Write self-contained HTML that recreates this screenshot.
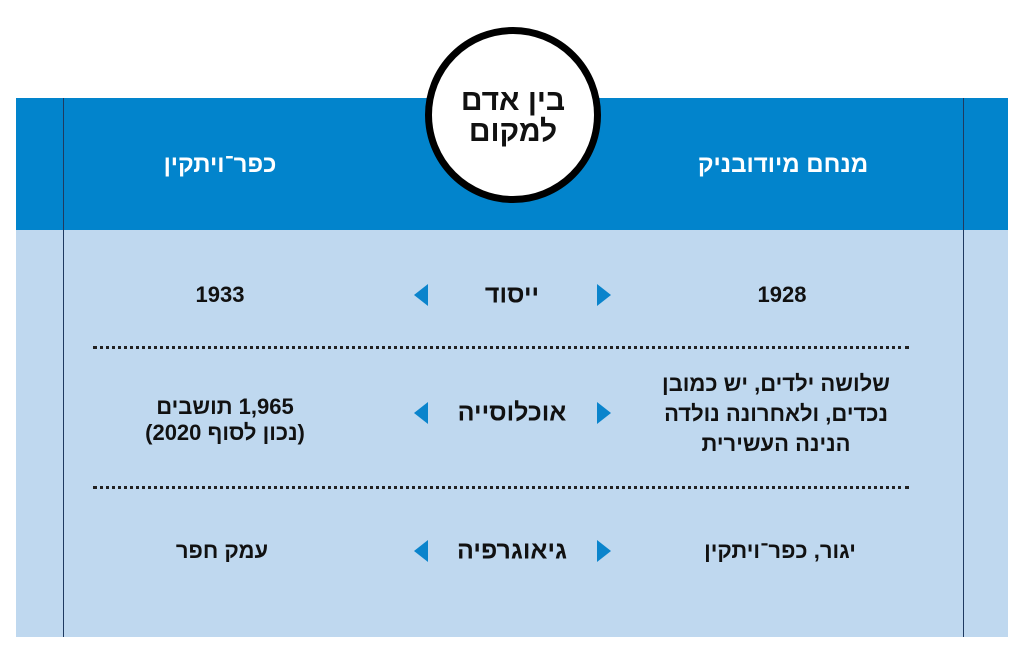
<!DOCTYPE html>
<html><head><meta charset="utf-8"><style>
body{margin:0;width:1024px;height:665px;background:#fff;position:relative;overflow:hidden;font-family:"Liberation Sans","Noto Sans CJK SC",sans-serif;}
.a{position:absolute}
.t{position:absolute;transform:translate(-50%,-50%);text-align:center;white-space:nowrap;direction:rtl;color:#111;font-weight:bold;}
.hd{color:#fff;font-size:24px}
.bd{font-size:22px;line-height:26px}
.lab{font-size:25px;font-weight:900}
.dot{position:absolute;left:93px;width:816px;height:0;border-top:3px dotted #222}
.tl{position:absolute;width:0;height:0;border-top:11px solid transparent;border-bottom:11px solid transparent}
</style></head><body>
<div class="a" style="left:16px;top:98px;width:992px;height:132px;background:#0284cc"></div>
<div class="a" style="left:16px;top:230px;width:992px;height:407px;background:#bfd8ef"></div>
<div class="a" style="left:63px;top:98px;width:1px;height:539px;background:#1f3a60"></div>
<div class="a" style="left:963px;top:98px;width:1px;height:539px;background:#1f3a60"></div>
<div class="a" style="left:425px;top:27px;width:162px;height:162px;border:7px solid #000;border-radius:50%;background:#fff"></div>
<div class="t" style="left:513px;top:116px;font-size:30px;line-height:31px;font-weight:900">בין אדם<br>למקום</div>
<div class="t hd" style="left:783px;top:165px">מנחם מיודובניק</div>
<div class="t hd" style="left:220px;top:165px">כפר־ויתקין</div>

<div class="t bd" style="left:782px;top:295px">1928</div>
<div class="t bd" style="left:220px;top:295px">1933</div>
<div class="t lab" style="left:512px;top:295px">ייסוד</div>

<div class="dot" style="top:346px"></div>
<div class="t bd" style="left:776px;top:414px;line-height:30px">שלושה ילדים, יש כמובן<br>נכדים, ולאחרונה נולדה<br>הנינה העשירית</div>
<div class="t bd" style="left:225px;top:420px">1,965 תושבים<br>(נכון לסוף 2020)</div>
<div class="t lab" style="left:512px;top:413px">אוכלוסייה</div>

<div class="dot" style="top:486px"></div>
<div class="t bd" style="left:780px;top:551px">יגור, כפר־ויתקין</div>
<div class="t bd" style="left:222px;top:551px">עמק חפר</div>
<div class="t lab" style="left:512px;top:551px">גיאוגרפיה</div>

<div class="tl" style="left:414px;top:284px;border-right:14px solid #0a84cc"></div>
<div class="tl" style="left:597px;top:284px;border-left:14px solid #0a84cc"></div>
<div class="tl" style="left:414px;top:402px;border-right:14px solid #0a84cc"></div>
<div class="tl" style="left:597px;top:402px;border-left:14px solid #0a84cc"></div>
<div class="tl" style="left:414px;top:540px;border-right:14px solid #0a84cc"></div>
<div class="tl" style="left:597px;top:540px;border-left:14px solid #0a84cc"></div>
</body></html>
